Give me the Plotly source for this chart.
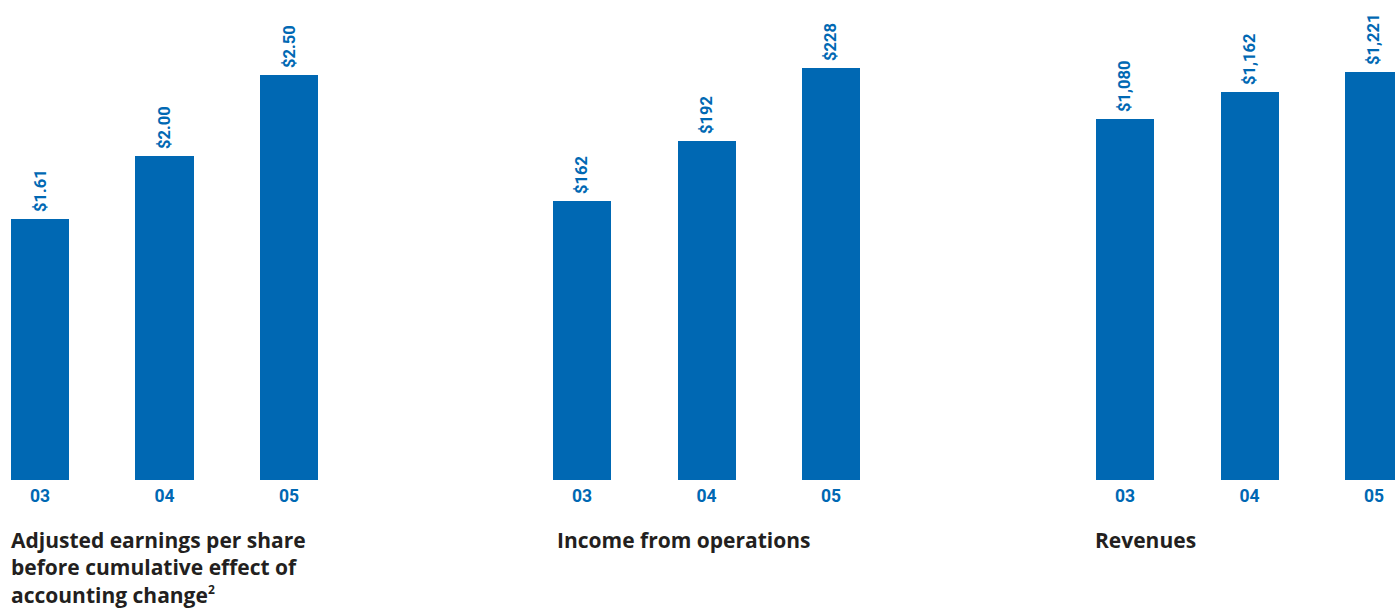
import plotly.graph_objects as go

years = ["03", "04", "05"]
eps_values = [1.61, 2.00, 2.50]
eps_labels = ["$1.61", "$2.00", "$2.50"]
income_values = [162, 192, 228]
income_labels = ["$162", "$192", "$228"]
revenue_values = [1080, 1162, 1221]
revenue_labels = ["$1,080", "$1,162", "$1,221"]
titles = [
    "Adjusted earnings per share<br>before cumulative effect of<br>accounting change<sup><span style='font-size:12px'>2</span></sup>",
    "Income from operations",
    "Revenues",
]

BLUE = "#0068b3"
W, H = 1395, 610
BOTTOM = 130
PH = H - BOTTOM
SP = 124.5  # px per category

fig = go.Figure()

panels = [
    (eps_values, eps_labels, 40, [0, 2.96]),
    (income_values, income_labels, 582, [23, 262]),
    (revenue_values, revenue_labels, 1125, [0, 1436]),
]

title_x = [11, 557, 1095]

for i, (vals, labs, c0, yr) in enumerate(panels):
    n = i + 1
    xa = "x" if n == 1 else f"x{n}"
    ya = "y" if n == 1 else f"y{n}"
    fig.add_trace(go.Bar(
        x=years, y=vals, text=["\u00a0" + t for t in labs], xaxis=xa, yaxis=ya,
        marker=dict(color=BLUE, line=dict(width=0)),
        width=0.466,
        textposition="outside", textangle=-90, cliponaxis=False,
        textfont=dict(family="Roboto", size=16.5, color=BLUE, weight="bold"),
        showlegend=False, hoverinfo="skip",
    ))
    left = c0 - SP / 2
    if n == 1:
        d0 = 0.0
        r0 = -c0 / SP
        d1 = c0 + 2.5 * SP
        r1 = 2.5
    elif n == 2:
        d0 = left
        r0 = -0.5
        d1 = left + 3 * SP
        r1 = 2.5
    else:
        d0 = left
        r0 = -0.5
        d1 = W
        r1 = (W - c0) / SP
    xk = "xaxis" if n == 1 else f"xaxis{n}"
    yk = "yaxis" if n == 1 else f"yaxis{n}"
    fig.layout[xk] = dict(
        domain=[d0 / W, d1 / W], range=[r0, r1], type="category",
        anchor=ya, showgrid=False, zeroline=False, showline=False,
        ticks="", ticklabelstandoff=3,
        tickfont=dict(family="Roboto", size=17.5, color=BLUE, weight="bold"),
        fixedrange=True,
    )
    fig.layout[yk] = dict(
        domain=[0, 1], range=yr, anchor=xa, visible=False, fixedrange=True,
    )
    fig.add_annotation(
        text=titles[i], xref="paper", yref="paper",
        x=(title_x[i] - 2) / W, y=(PH - 524) / PH, xanchor="left", yanchor="top",
        align="left", showarrow=False,
        font=dict(family="Open Sans", size=21, color="#231f20", weight="bold"),
    )

fig.update_layout(
    width=W, height=H,
    margin=dict(l=0, r=0, t=0, b=BOTTOM),
    paper_bgcolor="white", plot_bgcolor="white",
    bargap=0,
)

fig.write_html(
    "out.html",
    config={"displayModeBar": False},
    post_script="document.body.style.margin='0';document.body.style.overflow='hidden';",
)
